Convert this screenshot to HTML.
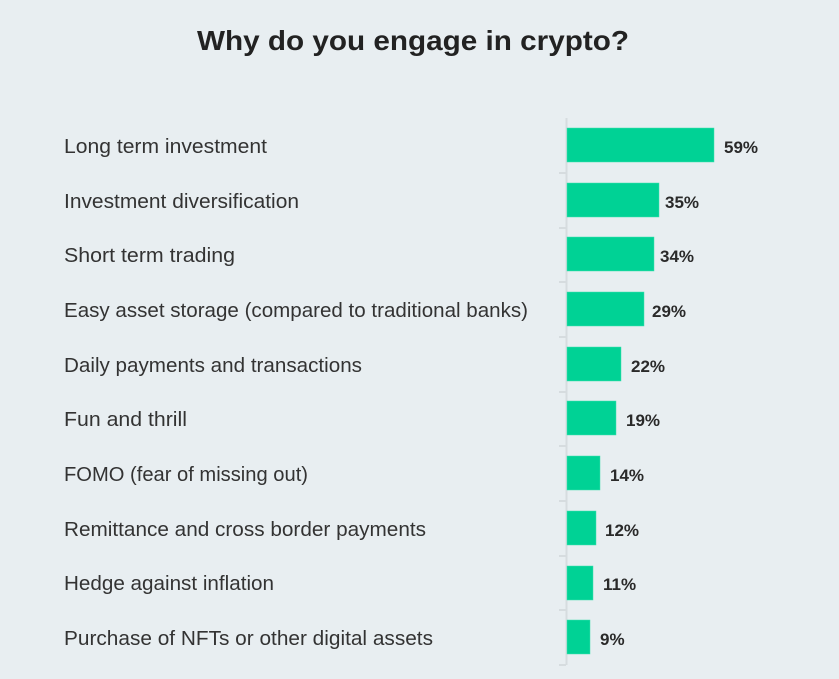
<!DOCTYPE html>
<html><head><style>
body{margin:0;width:839px;height:674px;background:#e8eef1;overflow:hidden}
</style></head><body>
<svg width="839" height="674" xmlns="http://www.w3.org/2000/svg" font-family="'Liberation Sans', sans-serif">
<rect width="839" height="674" fill="#e8eef1"/>
<text x="197" y="50" font-size="28" font-weight="bold" fill="#222" textLength="432" lengthAdjust="spacingAndGlyphs">Why do you engage in crypto?</text>
<line x1="566.5" y1="118" x2="566.5" y2="665" stroke="#d6dcdf" stroke-width="2"/>
<g fill="#00d295" stroke="#3fe0b0" stroke-width="0.5">
<rect x="567" y="128" width="147" height="34"/>
<rect x="567" y="183" width="92" height="34"/>
<rect x="567" y="237" width="87" height="34"/>
<rect x="567" y="292" width="77" height="34"/>
<rect x="567" y="347" width="54" height="34"/>
<rect x="567" y="401" width="49" height="34"/>
<rect x="567" y="456" width="33" height="34"/>
<rect x="567" y="511" width="29" height="34"/>
<rect x="567" y="566" width="26" height="34"/>
<rect x="567" y="620" width="23" height="34"/>
</g>
<g stroke="#d6dcdf" stroke-width="2">
<line x1="559" y1="173" x2="566" y2="173"/><line x1="559" y1="228" x2="566" y2="228"/>
<line x1="559" y1="282" x2="566" y2="282"/><line x1="559" y1="337" x2="566" y2="337"/>
<line x1="559" y1="392" x2="566" y2="392"/><line x1="559" y1="446" x2="566" y2="446"/>
<line x1="559" y1="501" x2="566" y2="501"/><line x1="559" y1="556" x2="566" y2="556"/>
<line x1="559" y1="610" x2="566" y2="610"/><line x1="559" y1="665" x2="566" y2="665"/>
</g>
<g font-size="20" fill="#333" lengthAdjust="spacingAndGlyphs">
<text x="64" y="153" textLength="203" lengthAdjust="spacingAndGlyphs">Long term investment</text>
<text x="64" y="208" textLength="235" lengthAdjust="spacingAndGlyphs">Investment diversification</text>
<text x="64" y="262" textLength="171" lengthAdjust="spacingAndGlyphs">Short term trading</text>
<text x="64" y="317" textLength="464" lengthAdjust="spacingAndGlyphs">Easy asset storage (compared to traditional banks)</text>
<text x="64" y="372" textLength="298" lengthAdjust="spacingAndGlyphs">Daily payments and transactions</text>
<text x="64" y="426" textLength="123" lengthAdjust="spacingAndGlyphs">Fun and thrill</text>
<text x="64" y="481" textLength="244" lengthAdjust="spacingAndGlyphs">FOMO (fear of missing out)</text>
<text x="64" y="536" textLength="362" lengthAdjust="spacingAndGlyphs">Remittance and cross border payments</text>
<text x="64" y="590" textLength="210" lengthAdjust="spacingAndGlyphs">Hedge against inflation</text>
<text x="64" y="645" textLength="369" lengthAdjust="spacingAndGlyphs">Purchase of NFTs or other digital assets</text>
</g>
<g font-size="17" font-weight="bold" fill="#2a2a2a">
<text x="724" y="153">59%</text>
<text x="665" y="208">35%</text>
<text x="660" y="262">34%</text>
<text x="652" y="317">29%</text>
<text x="631" y="372">22%</text>
<text x="626" y="426">19%</text>
<text x="610" y="481">14%</text>
<text x="605" y="536">12%</text>
<text x="603" y="590">11%</text>
<text x="600" y="645">9%</text>
</g>
</svg>
</body></html>
